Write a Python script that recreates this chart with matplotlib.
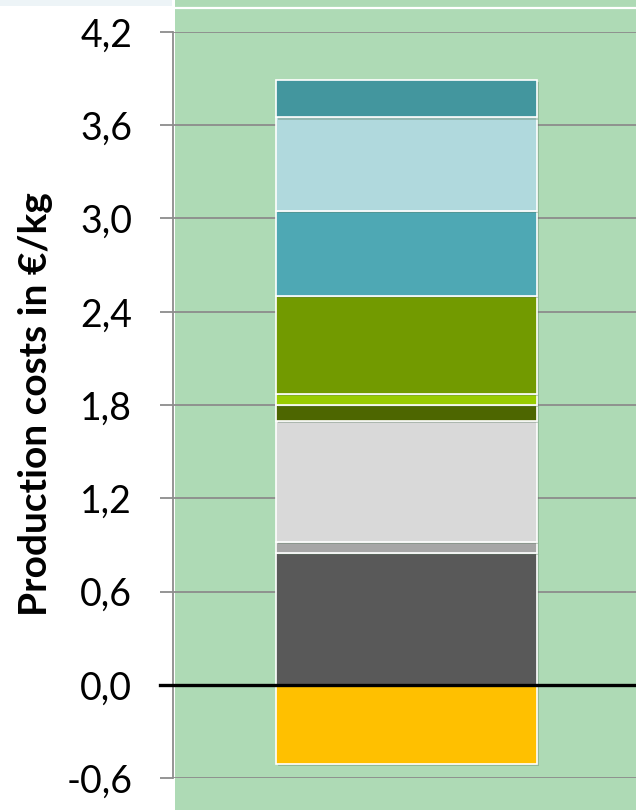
import numpy as np
import matplotlib

matplotlib.use("Agg")
import matplotlib.pyplot as plt
from matplotlib.patches import Rectangle
import matplotlib.patheffects as pe

# cost components, stacked from bottom to top (values in EUR/kg)
segments = ["dark grey", "mid grey", "light grey", "dark olive", "bright green",
            "olive", "mid teal", "light blue", "top teal"]
values = [0.85, 0.07, 0.78, 0.10, 0.07, 0.63, 0.55, 0.60, 0.24]
colors = ["#595959", "#A6A6A6", "#D9D9D9", "#4D6600", "#99CC00",
          "#729A00", "#4EA8B4", "#B0D9DD", "#43969E"]
credit = -0.51
credit_color = "#FFC000"
yticks = [-0.6, 0.0, 0.6, 1.2, 1.8, 2.4, 3.0, 3.6, 4.2]
ytick_labels = ["-0,6", "0,0", "0,6", "1,2", "1,8", "2,4", "3,0", "3,6", "4,2"]

W, H = 636, 810
plt.rcParams["font.family"] = ["Lato", "DejaVu Sans"]
fig = plt.figure(figsize=(W / 100, H / 100), dpi=100)
fig.patch.set_facecolor("white")

# slide background pieces
fig.patches.append(Rectangle((175 / W, 0), 1 - 175 / W, 1, transform=fig.transFigure,
                             facecolor="#AEDAB5", edgecolor="none", zorder=-2))
fig.patches.append(Rectangle((0, 1 - 6 / H), 172 / W, 6 / H, transform=fig.transFigure,
                             facecolor="#EDF4F7", edgecolor="none", zorder=-2))
fig.lines.append(plt.Line2D([175 / W, 1], [1 - 7.5 / H, 1 - 7.5 / H], transform=fig.transFigure,
                            color="white", lw=1.6, zorder=-1))

ax = fig.add_axes([173 / W, 32 / H, (W - 173) / W, (778 - 32) / H])
ax.set_zorder(2)
ax.set_facecolor("none")
ax.set_xlim(0, 1)
ax.set_ylim(-0.6, 4.2)

x0, bw = 0.504, 0.564
shadow = [pe.SimplePatchShadow(offset=(1.5, -1.5), shadow_rgbFace="#5A7A5F", alpha=0.35), pe.Normal()]
bottom = 0.0
for v, c in zip(values, colors):
    ax.bar(x0, v, bw, bottom=bottom, color=c, edgecolor="white", lw=1.2, zorder=3,
           path_effects=shadow)
    bottom += v
ax.bar(x0, credit, bw, color=credit_color, edgecolor="white", lw=1.2, zorder=3,
       path_effects=shadow)

ax.set_yticks(yticks)
ax.set_yticklabels(ytick_labels)
ax.set_xticks([])
ax.set_axisbelow(True)
ax.yaxis.grid(True, color="#8C8C8C", lw=1.3, zorder=1)
ax.tick_params(axis="y", length=9.4, width=1.3, color="#8C8C8C", pad=20, labelsize=27)
for s in ["top", "right", "bottom"]:
    ax.spines[s].set_visible(False)
ax.spines["left"].set_color("#8C8C8C")
ax.spines["left"].set_linewidth(1.3)

ax.plot([-13 / (W - 173), 1], [0, 0], transform=ax.get_yaxis_transform(), color="black",
        lw=2.4, clip_on=False, zorder=5)

fig.text(36 / W, 1 - 404 / H, "Production costs in €/kg", rotation=90, ha="center", va="center",
         fontsize=28, fontweight="bold")

fig.savefig("out.png", dpi=100)
